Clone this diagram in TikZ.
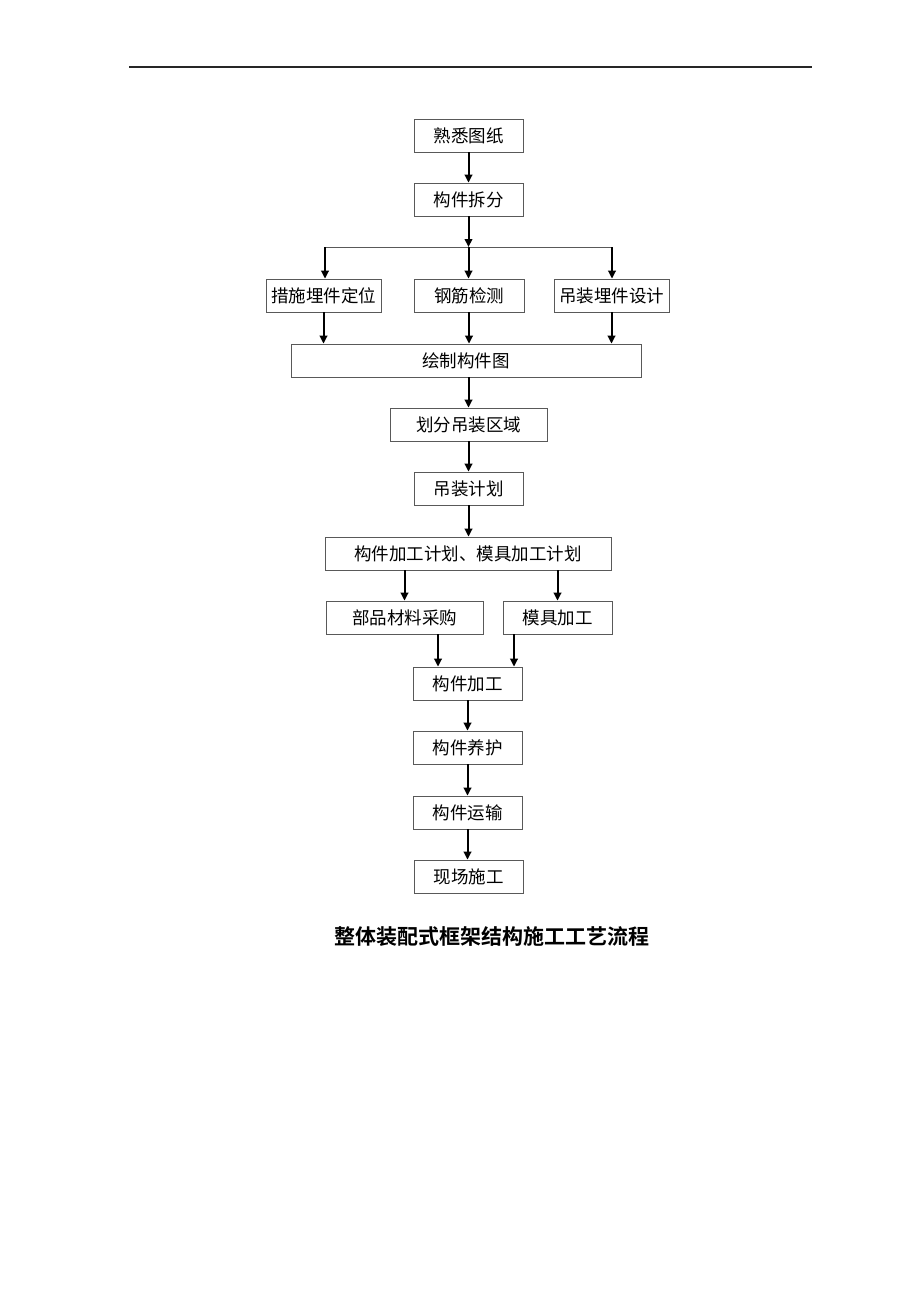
\documentclass[tikz,border=0pt]{standalone}
\usepackage{fontspec}
\newfontfamily\cjk{Noto Sans CJK SC}[BoldFont={Noto Sans CJK SC Bold}]
\usetikzlibrary{arrows.meta}
\begin{document}
\begin{tikzpicture}[x=1pt,y=-1pt,
 box/.style={draw=black!65,line width=0.7pt,inner sep=0pt,minimum height=33pt,font=\cjk\fontsize{17.5}{17.5}\selectfont},
 arr/.style={line width=2pt,-{Triangle[length=8pt,width=7.5pt]}},
 thin/.style={draw=black!65,line width=0.7pt}]
\fill[white] (0,0) rectangle (920,1302);
\useasboundingbox (0,0) rectangle (920,1302);
\draw[line width=1.3pt,black!85] (129,67) -- (812,67);
% nodes
\node[box,minimum width=109pt] (n1) at (468.5,135.5) {熟悉图纸};
\node[box,minimum width=109pt] (n2) at (468.5,199.5) {构件拆分};
\node[box,minimum width=115pt] (r1) at (323.5,295.5) {措施埋件定位};
\node[box,minimum width=110pt] (r2) at (469,295.5) {钢筋检测};
\node[box,minimum width=115pt] (r3) at (611.5,295.5) {吊装埋件设计};
\node[box,minimum width=350pt] (n4) at (466,360.5) {绘制构件图};
\node[box,minimum width=157pt] (n5) at (468.5,424.5) {划分吊装区域};
\node[box,minimum width=109pt] (n6) at (468.5,488.5) {吊装计划};
\node[box,minimum width=286pt] (n7) at (468,553.5) {构件加工计划、模具加工计划};
\node[box,minimum width=157pt] (n8a) at (404.5,617.5) {部品材料采购};
\node[box,minimum width=109pt] (n8b) at (557.5,617.5) {模具加工};
\node[box,minimum width=109pt] (n9) at (467.5,683.5) {构件加工};
\node[box,minimum width=109pt] (n10) at (467.5,747.5) {构件养护};
\node[box,minimum width=109pt] (n11) at (467.5,812.5) {构件运输};
\node[box,minimum width=109pt] (n12) at (468.5,876.5) {现场施工};
\node[font=\cjk\bfseries\fontsize{21}{21}\selectfont] (title) at (492,937) {整体装配式框架结构施工工艺流程};
% connectors
\draw[arr] (n1.south) -- (n2.north);
\coordinate (b) at (468.5,247);
\coordinate (bl) at (325,247);
\coordinate (br) at (612,247);
\draw[arr] (n2.south) -- (b);
\draw[thin] (bl) -- (br);
\draw[arr] (bl) -- (bl |- r1.north);
\draw[arr] (b) -- (b |- r2.north);
\draw[arr] (br) -- (br |- r3.north);
\draw[arr] (r1.south) -- (r1.south |- n4.north);
\draw[arr] (r2.south) -- (r2.south |- n4.north);
\draw[arr] (r3.south) -- (r3.south |- n4.north);
\draw[arr] (n4.south -| n5.north) -- (n5.north);
\draw[arr] (n5.south) -- (n6.north);
\draw[arr] (n6.south) -- (n6.south |- n7.north);
\draw[arr] (n8a.north |- n7.south) -- (n8a.north);
\draw[arr] (n8b.north |- n7.south) -- (n8b.north);
\coordinate (c1) at (438,634);
\coordinate (c2) at (514,634);
\draw[arr] (c1) -- (c1 |- n9.north);
\draw[arr] (c2) -- (c2 |- n9.north);
\draw[arr] (n9.south) -- (n10.north);
\draw[arr] (n10.south) -- (n11.north);
\draw[arr] (n11.south) -- (n11.south |- n12.north);
\end{tikzpicture}
\end{document}
